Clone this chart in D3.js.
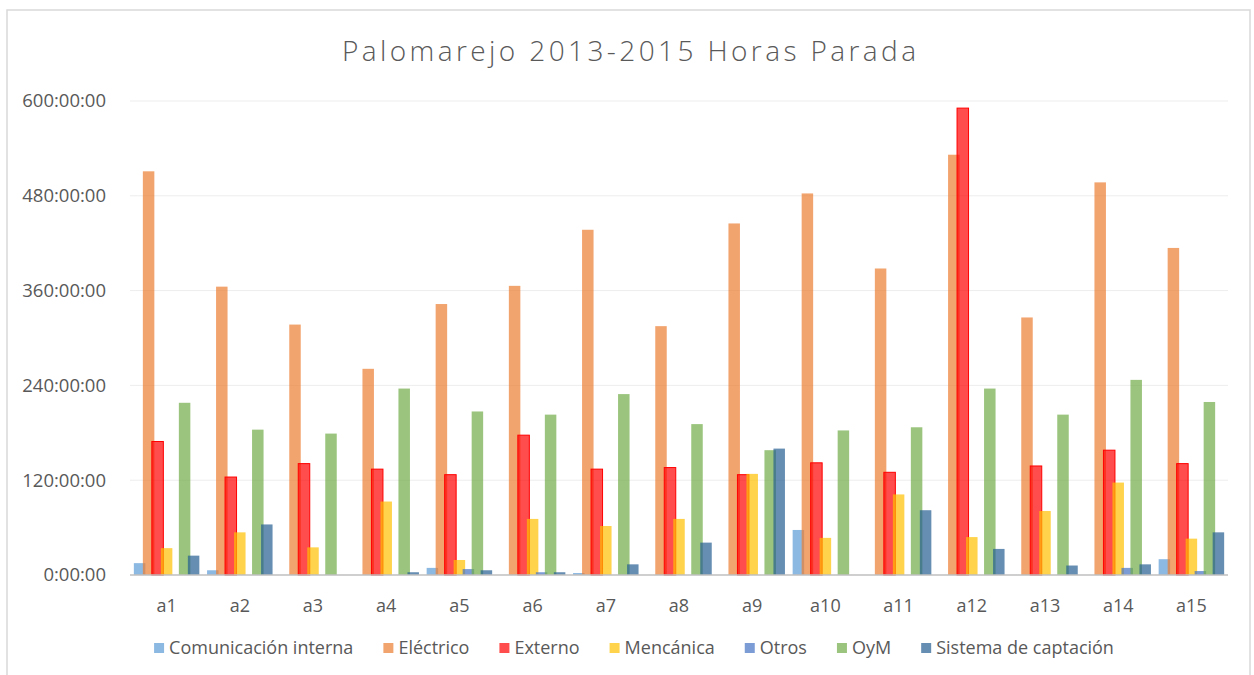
<!DOCTYPE html>
<html>
<head>
<meta charset="utf-8">
<script src="https://cdn.jsdelivr.net/npm/d3@7"></script>
<style>
  body { margin: 0; background: #fff; }
  svg { display: block; font-family: "Open Sans", sans-serif; }
</style>
</head>
<body>
<svg id="chart" width="1254" height="675"></svg>
<script>
// hours per category a1..a15
const categories = ["a1","a2","a3","a4","a5","a6","a7","a8","a9","a10","a11","a12","a13","a14","a15"];
const seriesNames = ["Comunicación interna","Eléctrico","Externo","Mencánica","Otros","OyM","Sistema de captación"];
const seriesColors = ["#5B9BD5","#ED7D31","#FF0000","#FFC000","#4472C4","#70AD47","#255E91"];

const comunicacion = [15, 6, 0, 0, 9, 0, 2.5, 0, 0, 57, 0, 0, 0, 0, 20];
const electrico    = [511, 365, 317, 261, 343, 366, 437, 315, 445, 483, 388, 532, 326, 497, 414];
const externo      = [169, 124, 141, 134, 127, 177, 134, 136, 127, 142, 130, 591, 138, 158, 141];
const mecanica     = [34, 54, 35, 93, 19, 71, 62, 71, 128, 47, 102, 48, 81, 117, 46];
const otros        = [0, 0, 0, 0, 7.5, 3.5, 0, 0, 0, 0, 0, 0, 0, 9, 5];
const oym          = [218, 184, 179, 236, 207, 203, 229, 191, 158, 183, 187, 236, 203, 247, 219];
const sistema      = [24.5, 64, 0, 3.5, 6, 3.5, 13.5, 41, 160, 0, 82, 33, 12, 13.5, 54];
const yTicks = [0, 120, 240, 360, 480, 600];

const seriesValues = [comunicacion, electrico, externo, mecanica, otros, oym, sistema];

const svg = d3.select("#chart");
const margin = {left: 130, right: 26, top: 101, bottom: 100};
const W = 1254, H = 675;
const textColor = "#595959";

// chart frame
svg.append("rect")
  .attr("x", 7).attr("y", 10)
  .attr("width", 1243).attr("height", 700)
  .attr("fill", "none")
  .attr("stroke", "#D9D9D9")
  .attr("stroke-width", 1.5);

svg.append("text")
  .attr("x", 629).attr("y", 61)
  .attr("text-anchor", "middle")
  .attr("font-size", 28)
  .attr("font-weight", 300)
  .attr("fill", textColor)
  .attr("textLength", 574)
  .attr("lengthAdjust", "spacing")
  .text("Palomarejo 2013-2015 Horas Parada");

const x0 = d3.scaleBand()
  .domain(categories)
  .range([margin.left, W - margin.right]);

const x1 = d3.scaleBand()
  .domain(seriesNames)
  .range([-31.5, 31.5]);
const barW = 11.5;

const y = d3.scaleLinear()
  .domain([0, 600])
  .range([H - margin.bottom, margin.top]);

// gridlines
svg.append("g")
  .selectAll("line")
  .data(yTicks.filter(d => d > 0))
  .enter().append("line")
  .attr("x1", margin.left).attr("x2", W - margin.right)
  .attr("y1", d => y(d)).attr("y2", d => y(d))
  .attr("stroke", "#EDEDED")
  .attr("stroke-width", 1);

const yAxis = svg.append("g")
  .attr("transform", "translate(" + (margin.left - 21) + ",0)")
  .call(d3.axisLeft(y).tickValues(yTicks).tickSize(0).tickFormat(d => d + ":00:00"));
yAxis.select(".domain").remove();
yAxis.selectAll("text")
  .attr("font-size", 18.5)
  .attr("font-family", "Open Sans, sans-serif")
  .attr("fill", textColor);

// bars, one group per series so later series sit on top
const groups = svg.append("g")
  .selectAll("g.series")
  .data(seriesNames)
  .enter().append("g")
  .attr("class", "series");

groups.each(function(name, si) {
  const rows = seriesValues[si]
    .map((v, i) => ({cat: categories[i], v: v}))
    .filter(d => d.v > 0);
  d3.select(this).selectAll("rect")
    .data(rows)
    .enter().append("rect")
    .attr("x", d => x0(d.cat) + x0.bandwidth() / 2 + x1(name) + x1.bandwidth() / 2 - barW / 2)
    .attr("y", d => y(d.v))
    .attr("width", barW)
    .attr("height", d => y(0) - y(d.v))
    .attr("fill", seriesColors[si])
    .attr("fill-opacity", 0.7)
    .attr("stroke", name === "Externo" ? "#FF0000" : "none")
    .attr("stroke-width", name === "Externo" ? 1 : 0);
});

// baseline
svg.append("line")
  .attr("x1", margin.left).attr("x2", W - margin.right)
  .attr("y1", y(0)).attr("y2", y(0))
  .attr("stroke", "#BFBFBF")
  .attr("stroke-width", 1.5);

const xAxis = svg.append("g")
  .attr("transform", "translate(0," + (y(0) + 21) + ")")
  .call(d3.axisBottom(x0).tickSize(0));
xAxis.select(".domain").remove();
xAxis.selectAll("text")
  .attr("font-size", 18)
  .attr("font-family", "Open Sans, sans-serif")
  .attr("fill", textColor);

// legend
const legend = svg.append("g");
const items = legend.selectAll("g")
  .data(seriesNames)
  .enter().append("g");
items.append("rect")
  .attr("width", 10).attr("height", 10)
  .attr("y", -11)
  .attr("fill", (d, i) => seriesColors[i])
  .attr("fill-opacity", 0.7);
items.append("text")
  .attr("x", 15)
  .attr("y", 0)
  .attr("font-size", 18)
  .attr("fill", textColor)
  .text(d => d);

let cx = 0;
const gap = 30;
items.each(function() {
  const w = 15 + d3.select(this).select("text").node().getComputedTextLength();
  d3.select(this).attr("transform", "translate(" + cx + ",0)");
  cx += w + gap;
});
const total = cx - gap;
legend.attr("transform", "translate(" + (634 - total / 2) + ",654)");
</script>
</body>
</html>
